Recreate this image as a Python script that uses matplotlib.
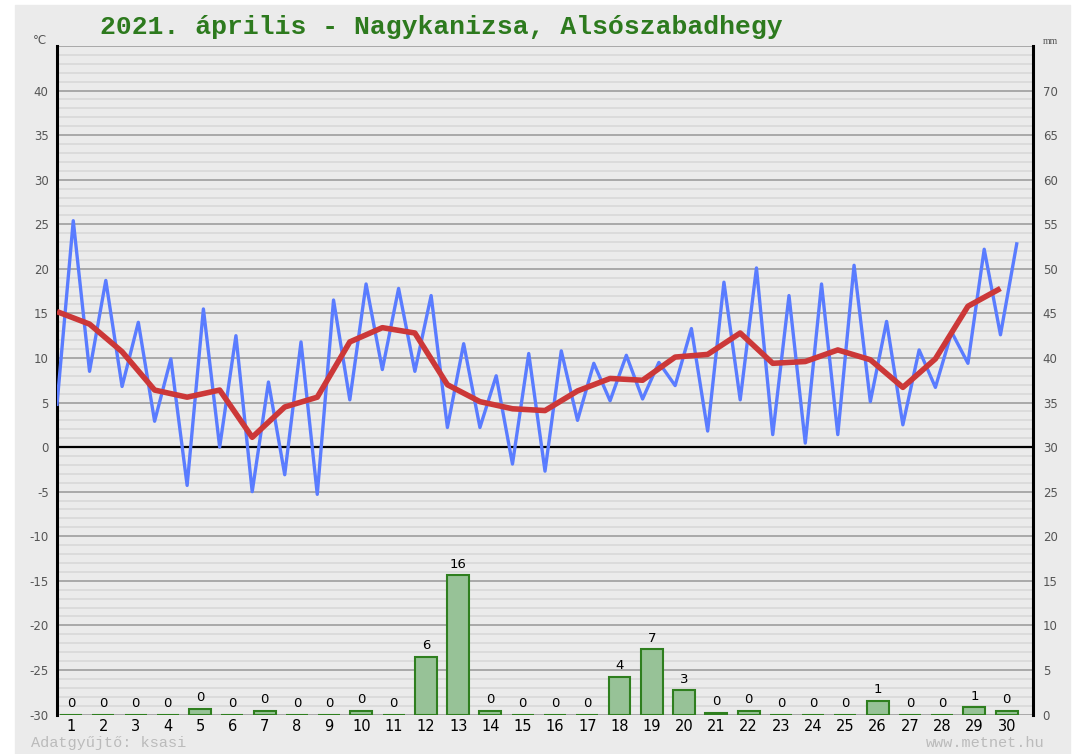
import numpy as np
import matplotlib.pyplot as plt
from matplotlib.patches import Rectangle

plt.rcParams['axes.unicode_minus'] = False

# napok
days = np.arange(1, 31)
# napi minimum / maximum felvaltva (min1, max1, min2, max2, ...)
temp_minmax = [4.8, 25.4, 8.5, 18.7, 6.8, 14.0, 2.9, 9.9, -4.3, 15.5,
               0.0, 12.5, -5.0, 7.3, -3.1, 11.8, -5.3, 16.5, 5.3, 18.3,
               8.7, 17.8, 8.5, 17.0, 2.2, 11.6, 2.2, 8.0, -1.9, 10.5,
               -2.7, 10.8, 3.0, 9.4, 5.2, 10.3, 5.4, 9.5, 6.9, 13.3,
               1.8, 18.5, 5.3, 20.1, 1.4, 17.0, 0.45, 18.3, 1.4, 20.4,
               5.1, 14.1, 2.5, 10.9, 6.7, 12.9, 9.4, 22.2, 12.6, 22.8]
# napi kozephomerseklet
temp_mean = [15.2, 13.8, 10.7, 6.4, 5.6, 6.4, 1.1, 4.5, 5.6, 11.8,
             13.4, 12.8, 7.0, 5.1, 4.3, 4.1, 6.3, 7.7, 7.5, 10.1,
             10.4, 12.8, 9.4, 9.6, 10.9, 9.8, 6.7, 9.9, 15.8, 17.8]
# csapadek (mm)
precip = [0, 0, 0, 0, 0.6, 0, 0.4, 0, 0, 0.4,
          0, 6.5, 15.6, 0.4, 0, 0, 0, 4.2, 7.3, 2.7,
          0.2, 0.4, 0, 0, 0, 1.5, 0, 0, 0.8, 0.4]
precip_labels = ['0', '0', '0', '0', '0', '0', '0', '0', '0', '0',
                 '0', '6', '16', '0', '0', '0', '0', '4', '7', '3',
                 '0', '0', '0', '0', '0', '1', '0', '0', '1', '0']

W, H = 1075, 754
fig = plt.figure(figsize=(W / 100, H / 100), dpi=100)
fig.patch.set_facecolor('white')
fig.patches.append(Rectangle((15 / W, 0), (1070 - 15) / W, 1 - 5 / H,
                             transform=fig.transFigure, color='#ebebeb', zorder=-10))

rect = [57 / W, 1 - 714.5 / H, (1033 - 57) / W, (714.5 - 46) / H]

# homerseklet tengely
ax = fig.add_axes(rect)
ax.set_facecolor('#ebebeb')
ax.set_xlim(0, 60)
ax.set_ylim(-30, 45)
for v in range(-30, 46):
    if v == 0:
        ax.axhline(v, color='black', lw=1.6, zorder=1)
    elif v % 5 == 0:
        ax.axhline(v, color='#a3a3a3', lw=1.3, zorder=1)
    else:
        ax.axhline(v, color='#d8d8d8', lw=1.2, zorder=0.5)

ax.plot(np.arange(len(temp_minmax)), temp_minmax, color='#5a7cff', lw=2.4, zorder=3)
ax.plot(np.arange(0, 2 * len(temp_mean), 2), temp_mean, color='#cc3838', lw=4.0,
        solid_capstyle='butt', zorder=4)

ax.set_yticks(range(-30, 41, 5))
ax.tick_params(axis='y', length=0, pad=6, labelsize=8.5, labelcolor='#555555')
ax.set_xticks([])
for s in ['top', 'bottom']:
    ax.spines[s].set_visible(False)
for s in ['left', 'right']:
    ax.spines[s].set_linewidth(2.2)
    ax.spines[s].set_color('black')

# csapadek tengely
ax2 = fig.add_axes(rect)
ax2.patch.set_visible(False)
ax2.set_xlim(0.566, 30.815)
ax2.set_ylim(0, 75)
ax2.bar(days, precip, width=0.68, color='#97c297', edgecolor='#2f7f1f', lw=1.5, zorder=3)
for d, v, lab in zip(days, precip, precip_labels):
    ax2.annotate(lab, (d, v), xytext=(0, 3.5), textcoords='offset points',
                 ha='center', va='bottom', fontsize=9.5, color='black')
ax2.yaxis.tick_right()
ax2.set_yticks(range(0, 71, 5))
ax2.set_xticks(days)
ax2.tick_params(axis='y', length=0, pad=7, labelsize=8.5, labelcolor='#555555')
ax2.tick_params(axis='x', length=0, pad=3, labelsize=10.5, labelcolor='black')
for s in ax2.spines.values():
    s.set_visible(False)

fig.text(441 / W, 1 - 27 / H, '2021. április - Nagykanizsa, Alsószabadhegy',
         family='Liberation Mono', weight='bold', fontsize=19, color='#2d7a1e',
         ha='center', va='center')
fig.text(40 / W, 1 - 41 / H, '°C', fontsize=8.5, color='#555555', ha='center', va='center')
fig.text(1050 / W, 1 - 42 / H, 'mm', family='Liberation Serif', fontsize=7,
         color='#555555', ha='center', va='center')
fig.text(31 / W, 1 - 743 / H, 'Adatgyűjtő: ksasi', family='Liberation Mono',
         fontsize=11, color='#bbbbbb', ha='left', va='center')
fig.text(1045 / W, 1 - 743 / H, 'www.metnet.hu', family='Liberation Mono',
         fontsize=11, color='#bbbbbb', ha='right', va='center')

fig.savefig('out.png', dpi=100)
